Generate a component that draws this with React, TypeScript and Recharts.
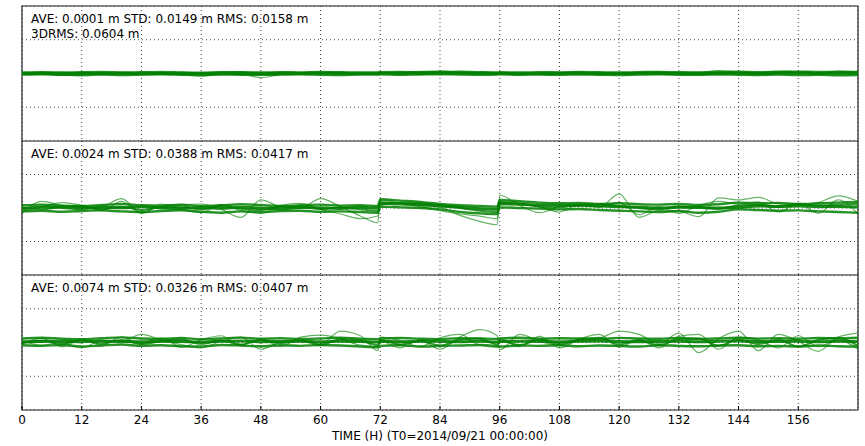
import { LineChart, Line, XAxis, YAxis, CartesianGrid, ReferenceArea } from 'recharts';

// time axis (hours), step points just before 72 h and 96 h
const hours = [
    0, 4, 8, 12, 16, 20, 24, 28, 32, 36, 40, 44, 48, 52, 56, 60, 64, 68,
    71.5,
    72, 76, 80, 84, 88, 92,
    95.5,
    96, 100, 104, 108, 112, 116, 120, 124, 128, 132, 136, 140, 144, 148, 152, 156, 160, 164, 168,
];
const xTicks = [0, 12, 24, 36, 48, 60, 72, 84, 96, 108, 120, 132, 144, 156];
const yTicks = [-250, 0, 250];

// residuals in mm
const topA = [0, 2, -1, 1, 0, 2, -2, 0, 1, -1, 2, 0, -2, 1, 0, 2, 1, 0, -1, 1, 2, 0, 3, 1, 2, 0, 1, -1, 0, 2, 1, -1, 0, 1, 2, 0, -1, 1, 2, 0, 1, 3, 0, 2, 1];
const topB = [8, 10, 6, 9, 11, 7, 9, 12, 8, 6, 10, 9, 7, 10, 8, 11, 9, 7, 8, 10, 12, 9, 11, 14, 10, 8, 9, 7, 10, 8, 11, 9, 7, 10, 12, 9, 8, 11, 13, 10, 12, 14, 11, 13, 12];
const topC = [-8, -6, -10, -9, -7, -11, -8, -6, -9, -12, -7, -9, -10, -8, -6, -9, -11, -7, -8, -6, -9, -7, -5, -8, -10, -7, -6, -9, -8, -10, -7, -9, -11, -8, -6, -9, -10, -7, -9, -11, -8, -12, -10, -13, -11];
const topD = [3, -4, -10, -18, -6, 0, -5, 2, -8, -20, -4, -6, -30, -8, 0, 4, -2, 3, 1, 5, 2, 6, 10, 4, 2, 5, 3, 0, -4, 2, 6, 1, -3, 2, 5, 0, 3, 6, 2, -2, 4, 8, 2, 6, 4];
const topE = [-3, 5, 12, 4, -2, 6, 10, 3, -4, 2, 8, 14, 4, -2, 6, 10, 2, -3, 0, 4, 8, 16, 20, 10, 4, -2, 6, 2, -5, 4, 10, 3, -2, 6, 12, 4, 8, 22, 10, 4, 18, 12, 6, 16, 10];

const midA = [-5, 8, 4, -3, 5, 2, 10, 0, -4, 3, -2, 6, 0, -6, 4, 2, -3, 5, 0, 35, 30, 25, 15, 5, -5, -10, 30, 28, 22, 20, 18, 15, 10, 5, 0, 5, 3, 0, 5, 15, 12, 15, 10, 12, 8];
const midB = [20, 25, 18, 15, 22, 30, 20, 18, 25, 15, 20, 28, 22, 15, 20, 25, 18, 20, 15, 65, 55, 45, 30, 20, 15, 10, 60, 50, 40, 35, 38, 30, 35, 28, 25, 30, 22, 28, 40, 35, 38, 30, 35, 40, 45];
const midC = [-25, -20, -28, -22, -18, -25, -30, -22, -18, -28, -35, -25, -30, -22, -20, -28, -25, -30, -35, 10, 5, 0, -10, -30, -40, -45, 5, 0, -5, -10, -8, -15, -20, -25, -30, -22, -35, -28, -10, -15, -20, -18, -25, -30, -35];
const midD = [-40, 50, 20, 0, 10, 70, -35, 15, 25, 30, -10, -70, 60, 10, 0, 70, 10, -60, -110, 60, 40, 20, 5, -55, -100, -125, 95, 20, -35, 10, 30, 5, 105, -70, -20, -25, -65, 75, 60, 80, 30, 20, 40, 90, 50];
const midE = [-30, 10, 40, 20, -20, 50, -40, 30, -10, -35, 25, -20, -40, 20, 35, -10, -45, -80, -60, 50, 35, 10, -20, -45, -60, -80, 40, 30, 10, -30, 25, 10, 40, -50, 10, -40, 20, 50, 30, 45, -30, 35, -40, 60, -45];
const midF = [5, -10, 10, 15, -10, 10, -15, 8, 12, -10, 15, -5, -15, 10, 12, -8, 5, -10, -20, 25, 40, 35, 20, 0, -20, -30, 45, 35, 10, 5, 25, 30, 15, 0, -10, 12, 5, -5, 20, 25, 10, 30, 20, 25, 30];

const botA = [5, 8, 10, 6, 12, 8, 5, 10, 7, 4, 9, 12, 6, 8, 10, 5, 9, 7, 3, 8, 6, 10, 8, 5, 9, 4, 7, 10, 8, 6, 9, 11, 7, 5, 8, 10, 6, 9, 12, 8, 7, 10, 6, 9, 8];
const botB = [30, 35, 28, 25, 32, 38, 30, 27, 33, 25, 30, 36, 28, 32, 26, 30, 35, 28, 25, 30, 33, 28, 25, 32, 30, 27, 30, 35, 28, 32, 30, 26, 34, 30, 28, 33, 27, 30, 35, 29, 32, 28, 33, 30, 35];
const botC = [-20, -25, -18, -30, -22, -15, -25, -20, -28, -30, -18, -22, -28, -20, -25, -18, -22, -30, -35, -25, -20, -30, -25, -22, -18, -28, -30, -22, -25, -20, -28, -22, -25, -30, -20, -25, -28, -22, -20, -28, -25, -30, -22, -28, -30];
const botD = [10, -20, 0, -40, 15, 10, 60, 20, -15, -40, 10, 40, -50, 5, 20, -10, 85, 50, -60, 10, -40, 20, -50, 40, 95, 50, -55, 60, 10, -20, 15, 30, 85, 60, -10, 70, -75, 30, 85, -60, 60, 10, -65, 40, 70];
const botE = [-10, 30, -30, 20, -20, 40, -10, 35, -35, 20, 50, -20, 25, -30, 40, 55, 30, -20, -30, 40, 15, -30, 35, 60, -20, -35, 30, -30, 45, -40, 25, 60, -35, 20, -40, 45, 60, -50, 40, 20, -40, 50, -30, 20, -50];
const botF = [-5, 15, -10, 20, -8, 18, -12, 10, 22, -10, 15, -15, 20, -5, 12, -18, 25, 15, -20, 18, -15, 12, -22, 20, 30, -15, 15, -18, 20, -10, 22, 35, -15, 18, -20, 25, 30, -25, 22, -12, 20, -30, 18, 35, -25];

const topText = ['AVE: 0.0001 m STD: 0.0149 m RMS: 0.0158 m', '3DRMS: 0.0604 m'];
const midText = ['AVE: 0.0024 m STD: 0.0388 m RMS: 0.0417 m'];
const botText = ['AVE: 0.0074 m STD: 0.0326 m RMS: 0.0407 m'];

const FONT = '"DejaVu Sans", sans-serif';
const GREEN = '#008000';

const toRows = (cols: number[][]) =>
    hours.map((t, i) => ({ t, a: cols[0][i], b: cols[1][i], c: cols[2][i], d: cols[3][i], e: cols[4][i], f: cols[5]?.[i] }));

// core band lines are drawn wider so they merge like the dense bundle in the original
const series = [
    { key: 'a', w: 3, o: 0.9 },
    { key: 'b', w: 2.4, o: 0.85 },
    { key: 'c', w: 2.4, o: 0.85 },
    { key: 'd', w: 1.2, o: 0.6 },
    { key: 'e', w: 1.2, o: 0.6 },
    { key: 'f', w: 2, o: 0.8 },
];

interface PanelProps {
    rows: any[];
    text: string[];
    height: number;
    top: number;
    axisHeight: number;
    labels?: boolean;
}

const Panel = ({ rows, text, height, top, axisHeight, labels }: PanelProps) => (
    <LineChart width={865} height={height} data={rows} margin={{ top, right: 7, bottom: 0, left: 22 }}>
        <CartesianGrid strokeDasharray="1 3" stroke="#444" />
        <XAxis
            dataKey="t"
            type="number"
            domain={[0, 168]}
            ticks={xTicks}
            interval={0}
            height={axisHeight}
            axisLine={false}
            tickLine={false}
            tickSize={0}
            tickMargin={0}
            tick={(p: any) => (
                <g>
                    <line x1={p.x} y1={p.y} x2={p.x} y2={p.y - 4} stroke="#000" />
                    {labels && (
                        <text x={p.x} y={p.y + 14} textAnchor="middle" fontSize={12} fontFamily={FONT} fill="#000">
                            {p.payload.value}
                        </text>
                    )}
                </g>
            )}
        />
        <XAxis
            xAxisId="top"
            orientation="top"
            type="number"
            dataKey="t"
            domain={[0, 168]}
            ticks={xTicks}
            interval={0}
            height={0}
            axisLine={false}
            tickLine={false}
            tickSize={0}
            tickMargin={0}
            tick={(p: any) => <line x1={p.x} y1={p.y} x2={p.x} y2={p.y + 4} stroke="#000" />}
        />
        <YAxis
            type="number"
            domain={[-500, 500]}
            ticks={yTicks}
            width={0}
            axisLine={false}
            tickLine={false}
            tickSize={0}
            tickMargin={0}
            tick={(p: any) => <line x1={p.x} y1={p.y} x2={p.x + 4} y2={p.y} stroke="#000" />}
        />
        <YAxis
            yAxisId="r"
            orientation="right"
            type="number"
            domain={[-500, 500]}
            ticks={yTicks}
            width={0}
            axisLine={false}
            tickLine={false}
            tickSize={0}
            tickMargin={0}
            tick={(p: any) => <line x1={p.x} y1={p.y} x2={p.x - 4} y2={p.y} stroke="#000" />}
        />
        {series.map((s) => (
            <Line
                key={s.key}
                dataKey={s.key}
                type="monotone"
                stroke={GREEN}
                strokeOpacity={s.o}
                strokeWidth={s.w}
                dot={false}
                activeDot={false}
                isAnimationActive={false}
            />
        ))}
        <ReferenceArea
            x1={0}
            x2={168}
            y1={-500}
            y2={500}
            fill="none"
            stroke="#222"
            strokeWidth={1.2}
            label={(p: any) => (
                <g>
                    {text.map((line, i) => (
                        <text key={i} x={p.viewBox.x + 9} y={p.viewBox.y + 17 + i * 14.5} fontSize={12} fontFamily={FONT} fill="#000">
                            {line}
                        </text>
                    ))}
                </g>
            )}
        />
        {labels && (
            <text x={440} y={165} textAnchor="middle" fontSize={12} fontFamily={FONT} fill="#000">
                TIME (H) (T0=2014/09/21 00:00:00)
            </text>
        )}
    </LineChart>
);

const App = () => (
    <div style={{ position: 'absolute', left: 0, top: 0, width: 865, height: 446, background: '#fff', display: 'flex', flexDirection: 'column' }}>
        <Panel rows={toRows([topA, topB, topC, topD, topE])} text={topText} height={141} top={6} axisHeight={0} />
        <Panel rows={toRows([midA, midB, midC, midD, midE, midF])} text={midText} height={134} top={0} axisHeight={0} />
        <Panel rows={toRows([botA, botB, botC, botD, botE, botF])} text={botText} height={171} top={0} axisHeight={36} labels />
    </div>
);

export default App;
